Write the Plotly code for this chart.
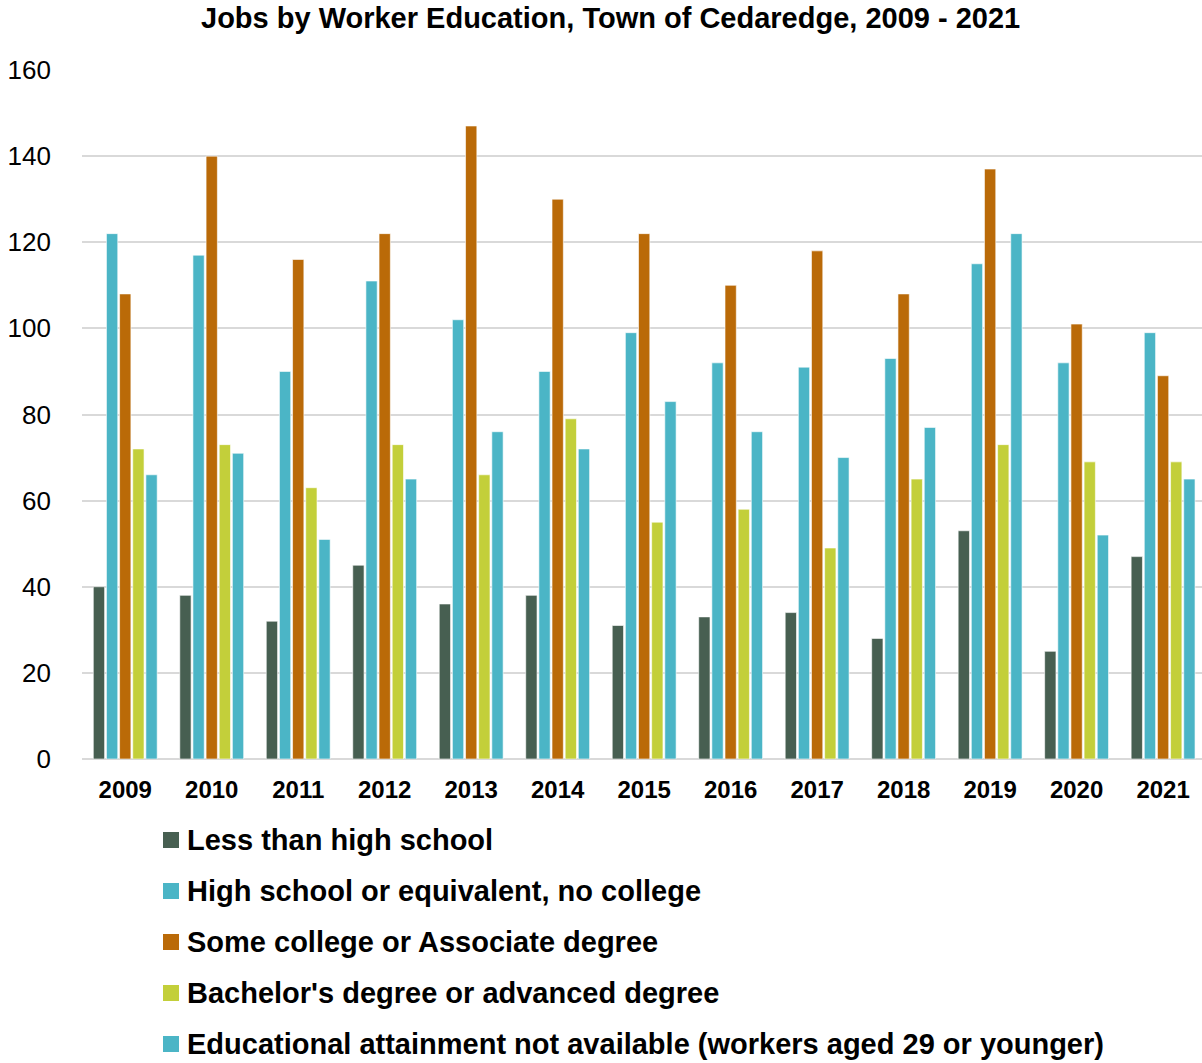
import plotly.graph_objects as go

years = ["2009", "2010", "2011", "2012", "2013", "2014", "2015",
         "2016", "2017", "2018", "2019", "2020", "2021"]

less_than_hs = [40, 38, 32, 45, 36, 38, 31, 33, 34, 28, 53, 25, 47]
high_school = [122, 117, 90, 111, 102, 90, 99, 92, 91, 93, 115, 92, 99]
some_college = [108, 140, 116, 122, 147, 130, 122, 110, 118, 108, 137, 101, 89]
bachelors = [72, 73, 63, 73, 66, 79, 55, 58, 49, 65, 73, 69, 69]
not_available = [66, 71, 51, 65, 76, 72, 83, 76, 70, 77, 122, 52, 65]

series_names = [
    "Less than high school",
    "High school or equivalent, no college",
    "Some college or Associate degree",
    "Bachelor's degree or advanced degree",
    "Educational attainment not available (workers aged 29 or younger)",
]
series_values = [less_than_hs, high_school, some_college, bachelors, not_available]
series_colors = ["#475F51", "#4BB5C6", "#BA6A08", "#C3CF3A", "#4BB5C6"]

FONT = "Liberation Sans, Arial, sans-serif"
W, H = 1202, 1063
ML, MR, MT, MB = 82, 0, 70, 304
PW, PH = W - ML - MR, H - MT - MB


def px_x(px):
    return (px - ML) / PW


def px_y(py):
    return (H - MB - py) / PH


fig = go.Figure()
for name, vals, color in zip(series_names, series_values, series_colors):
    fig.add_trace(go.Bar(
        x=years, y=vals, name=name, showlegend=False,
        marker=dict(color=color, line=dict(color="rgba(255,255,255,0.6)", width=1)),
    ))

# Legend block below the chart: square swatch + bold label per series
shapes, annotations = [], []
for k, (name, color) in enumerate(zip(series_names, series_colors)):
    cy = 840 + 51 * k
    shapes.append(dict(
        type="rect", xref="paper", yref="paper",
        x0=px_x(163), x1=px_x(179), y0=px_y(cy + 8), y1=px_y(cy - 8),
        fillcolor=color, line=dict(width=0),
    ))
    annotations.append(dict(
        text=f"<b>{name}</b>", xref="paper", yref="paper",
        x=px_x(185), y=px_y(cy), xanchor="left", yanchor="middle",
        showarrow=False, font=dict(size=29, color="black", family=FONT),
    ))

fig.update_layout(
    width=W, height=H,
    margin=dict(l=ML, r=MR, t=MT, b=MB),
    paper_bgcolor="white", plot_bgcolor="white",
    font=dict(family=FONT, color="black"),
    title=dict(
        text="<b>Jobs by Worker Education, Town of Cedaredge, 2009 - 2021</b>",
        x=0.508, xanchor="center", y=0.983, yanchor="middle",
        font=dict(size=29, color="black"),
    ),
    barmode="group", bargap=0.24, bargroupgap=0.14,
    showlegend=False,
    xaxis=dict(
        type="category", range=[-0.5, 12.45], showgrid=False, showline=False, ticks="",
        tickfont=dict(size=24, family=FONT, weight="bold"), tickangle=0,
        ticklabelstandoff=14,
    ),
    yaxis=dict(
        range=[0, 160], dtick=20, showgrid=True, gridcolor="#D9D9D9", gridwidth=2,
        zeroline=True, zerolinecolor="#D9D9D9", zerolinewidth=2,
        tickfont=dict(size=26), ticklabelstandoff=30,
    ),
    shapes=shapes,
    annotations=annotations,
)

fig.write_html("out.html")
